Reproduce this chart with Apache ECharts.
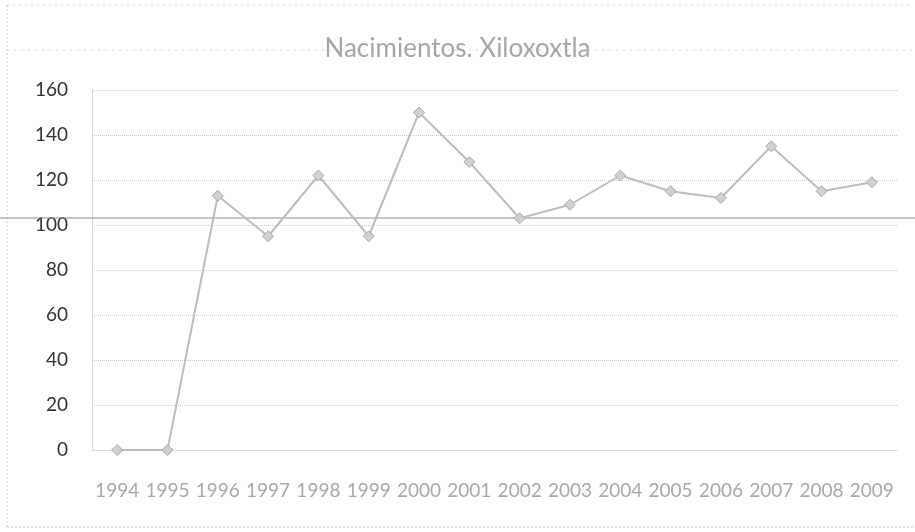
<!DOCTYPE html>
<html>
<head>
<meta charset="utf-8">
<script src="https://cdn.jsdelivr.net/npm/echarts@6/dist/echarts.min.js"></script>
<style>
  html, body { margin: 0; padding: 0; background: #fff; }
  #chart { width: 915px; height: 532px; }
</style>
</head>
<body>
<div id="chart"></div>
<script>
// años y nacimientos
var years = ["1994", "1995", "1996", "1997", "1998", "1999", "2000", "2001",
             "2002", "2003", "2004", "2005", "2006", "2007", "2008", "2009"];
var births = [0, 0, 113, 95, 122, 95, 150, 128, 103, 109, 122, 115, 112, 135, 115, 119];
var yTicks = [0, 20, 40, 60, 80, 100, 120, 140, 160];

var chart = echarts.init(document.getElementById("chart"));

chart.setOption({
  animation: false,
  title: {
    text: "Nacimientos. Xiloxoxtla",
    left: "center",
    top: 31,
    textStyle: {
      fontFamily: "Lato",
      fontWeight: "normal",
      fontSize: 26,
      color: "#a6a6a6"
    }
  },
  grid: {
    left: 92,
    right: 18,
    top: 90,
    bottom: 82
  },
  xAxis: {
    type: "category",
    data: years,
    axisLine: { show: true, lineStyle: { color: "#d4d4d4", type: "dotted" } },
    axisTick: { show: false },
    axisLabel: {
      interval: 0,
      hideOverlap: false,
      margin: 31,
      fontFamily: "Lato",
      fontSize: 19,
      color: "#a8a8a8"
    }
  },
  yAxis: {
    type: "value",
    min: yTicks[0],
    max: yTicks[yTicks.length - 1],
    interval: 20,
    axisLine: { show: true, lineStyle: { color: "#cfcfcf", type: "dotted" } },
    axisTick: { show: false },
    axisLabel: {
      margin: 24,
      fontFamily: "Lato",
      fontSize: 19,
      color: "#333333"
    },
    splitLine: { lineStyle: { color: "#c8c8c8", type: "dotted" } }
  },
  graphic: [
    // linea oscura a la altura de 100 (de borde a borde)
    { type: "line", shape: { x1: 0, y1: 218, x2: 915, y2: 218 },
      style: { stroke: "#8c8c8c", lineWidth: 1 }, z: 1 },
    // marco punteado
    { type: "line", shape: { x1: 7, y1: 5, x2: 7, y2: 527 },
      style: { stroke: "#c8c8c8", lineWidth: 1, lineDash: [2, 2] } },
    { type: "line", shape: { x1: 7, y1: 5, x2: 910, y2: 5 },
      style: { stroke: "#d6d6d6", lineWidth: 1, lineDash: [2, 4] } },
    { type: "line", shape: { x1: 7, y1: 527, x2: 915, y2: 527 },
      style: { stroke: "#c8c8c8", lineWidth: 1, lineDash: [2, 2] } },
    { type: "line", shape: { x1: 7, y1: 50, x2: 915, y2: 50 },
      style: { stroke: "#d6d6d6", lineWidth: 1, lineDash: [2, 5] }, z: 0 }
  ],
  series: [
    {
      type: "line",
      data: births,
      symbol: "diamond",
      symbolSize: 11,
      lineStyle: { color: "#bdbdbd", width: 2 },
      itemStyle: { color: "#d0d0d0", borderColor: "#a8a8a8", borderWidth: 1 },
      z: 3
    }
  ]
});
</script>
</body>
</html>
